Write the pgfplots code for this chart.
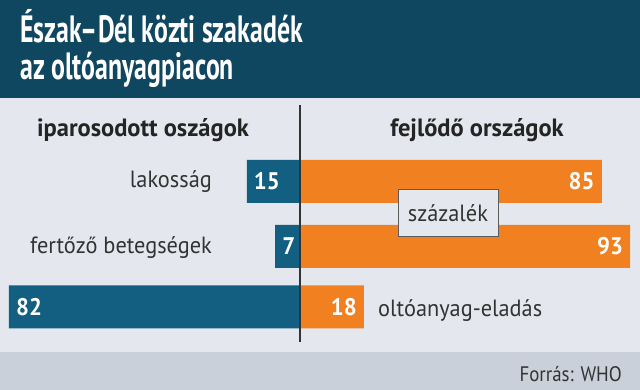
\documentclass[border=0pt]{standalone}
\usepackage{pgfplots}
\pgfplotsset{compat=1.18}
\usepackage{fontspec}
\setmainfont{PT Sans}
\newfontfamily\condfont{PT Sans}[FakeStretch=0.9]
\newfontfamily\labfont{PT Sans}[FakeStretch=0.95]
\newfontfamily\headfont{PT Sans}[FakeStretch=0.98]
\newfontfamily\titlefont{PT Sans}[FakeStretch=0.68]
\definecolor{titlebg}{HTML}{0F4760}
\definecolor{barteal}{HTML}{125F82}
\definecolor{barorange}{HTML}{F08020}
\definecolor{bgc}{HTML}{E4E8EE}
\definecolor{footbg}{HTML}{C9D0D9}
\definecolor{txt}{HTML}{333333}
\begin{document}
\begin{tikzpicture}
% backgrounds
\fill[bgc] (0pt,0pt) rectangle (640pt,390pt);
\fill[titlebg] (0pt,292pt) rectangle (640pt,390pt);
\fill[footbg] (0pt,0pt) rectangle (640pt,38pt);
\node[anchor=base west, inner sep=0pt, text=white, font=\titlefont\bfseries\fontsize{38}{38}\selectfont] at (20pt,347pt) {Észak–Dél közti szakadék};
\node[anchor=base west, inner sep=0pt, text=white, font=\titlefont\bfseries\fontsize{38}{38}\selectfont] at (20pt,310pt) {az oltóanyagpiacon};
\begin{axis}[
  at={(0pt,0pt)}, anchor=south west,
  scale only axis, width=640pt, height=390pt,
  xmin=-84.507, xmax=95.775, ymin=0, ymax=390,
  hide axis, clip=false,
]
\addplot[xbar, bar width=43, bar shift=0pt, fill=barteal, draw=none,
  point meta=explicit symbolic, nodes near coords,
  nodes near coords style={anchor=west, inner xsep=7pt, text=white, font=\labfont\bfseries\fontsize{24}{24}\selectfont}]
  coordinates {(-15,208.5) [15] (-7,143.5) [7] (-82,83) [82]};
\addplot[xbar, bar width=43, bar shift=0pt, fill=barorange, draw=none,
  point meta=explicit symbolic, nodes near coords,
  nodes near coords style={anchor=east, inner xsep=7pt, text=white, font=\labfont\bfseries\fontsize{24}{24}\selectfont}]
  coordinates {(85,208.5) [85] (93,143.5) [93] (18,83) [18]};
\end{axis}
% center line
\draw[line width=1.6pt, txt] (300pt,285pt) -- (300pt,48pt);
% headers
\node[anchor=base, inner sep=0pt, text=txt!70!black, font=\headfont\bfseries\fontsize{25}{25}\selectfont] at (143pt,253pt) {iparosodott oszágok};
\node[anchor=base, inner sep=0pt, text=txt!70!black, font=\headfont\bfseries\fontsize{25}{25}\selectfont] at (477pt,253pt) {fejlődő országok};
% category labels
\node[anchor=base east, inner sep=0pt, text=txt, font=\labfont\fontsize{23.5}{23.5}\selectfont] at (212pt,202pt) {lakosság};
\node[anchor=base east, inner sep=0pt, text=txt, font=\labfont\fontsize{23.5}{23.5}\selectfont] at (212pt,136pt) {fertőző betegségek};
\node[anchor=base west, inner sep=0pt, text=txt, font=\labfont\fontsize{23.5}{23.5}\selectfont] at (378pt,73pt) {oltóanyag-eladás};
% unit box
\node[draw=txt!80, line width=0.9pt, fill=bgc, minimum width=100pt, minimum height=47pt, inner sep=0pt, text=txt, font=\labfont\fontsize{23.5}{23.5}\selectfont] at (448pt,177pt) {százalék};
% source
\node[anchor=base east, inner sep=0pt, text=txt, font=\condfont\fontsize{21}{21}\selectfont] at (622pt,8.5pt) {Forrás: WHO};
\end{tikzpicture}
\end{document}
